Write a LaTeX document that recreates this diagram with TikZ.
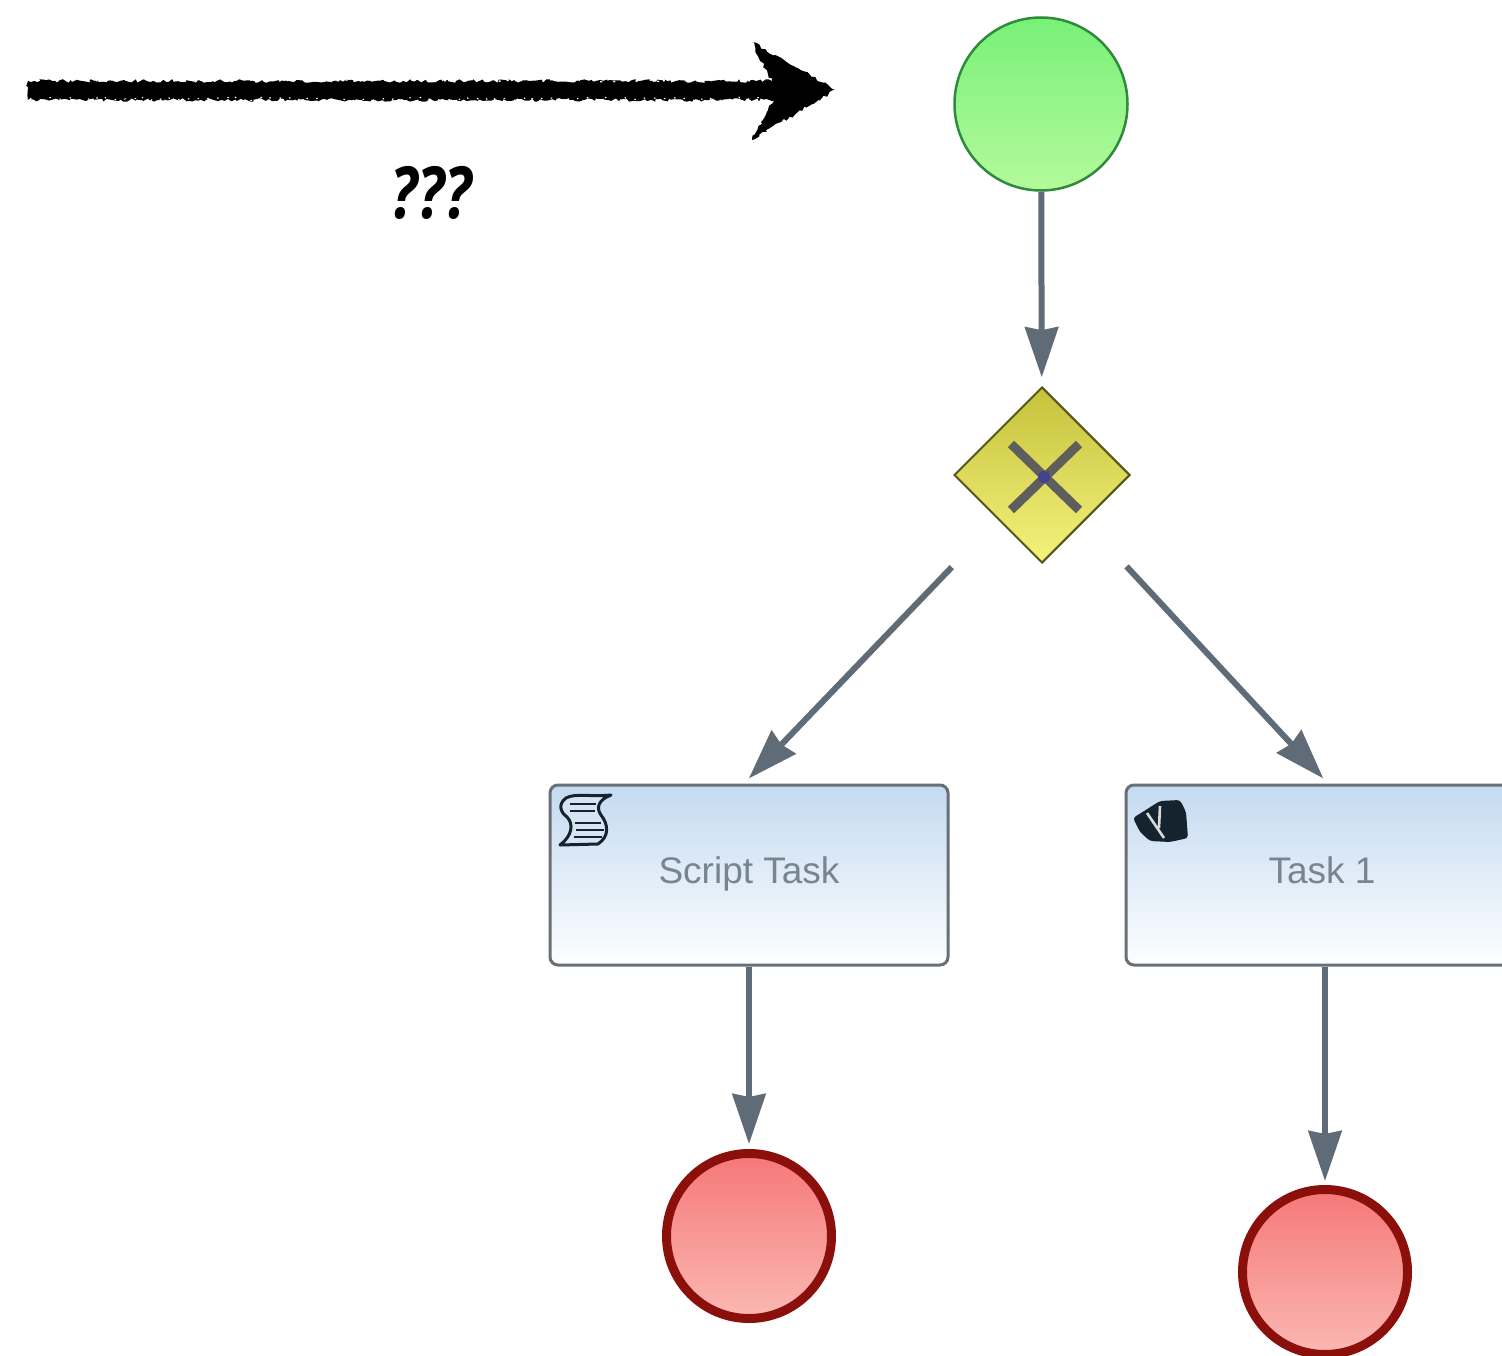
\documentclass[tikz,border=0pt]{standalone}
\usepackage{fontspec}
\setmainfont{Liberation Sans}
\newfontfamily\handfont{Open Sans}
\usetikzlibrary{arrows.meta,shapes.geometric,decorations.pathmorphing}
\definecolor{flowgrey}{HTML}{5F6B76}
\definecolor{taskline}{HTML}{687076}
\definecolor{tasktext}{HTML}{77858F}
\definecolor{icondark}{HTML}{14232E}
\tikzset{
  flow/.style={draw=flowgrey,line width=6pt,-{Stealth[length=50pt,width=33pt,inset=3pt]}},
  taskbox/.style={draw=taskline,line width=3pt,rounded corners=8pt,minimum height=180pt,
    top color=taskblue,bottom color=taskwhite,text=tasktext,font=\fontsize{37}{40}\selectfont,
    text height=26pt,text depth=10pt,inner sep=0pt},
  startev/.style={circle,draw=startline,line width=2.5pt,minimum size=173pt,inner sep=0pt,
    top color=starttop,bottom color=startbot},
  endev/.style={circle,draw=endline,line width=9pt,minimum size=165pt,inner sep=0pt,
    top color=endtop,bottom color=endbot},
  gatewayshape/.style={diamond,aspect=1,draw=gateline,line width=2pt,minimum size=176pt,inner sep=0pt,
    top color=gatetop,bottom color=gatebot},
  crossbar/.style={draw=crossgrey,line width=9pt},
  sketch/.style={decorate,decoration={random steps,segment length=3pt,amplitude=1.8pt}},
  scrollline/.style={draw=icondark,line width=3pt,line join=round}
}
\definecolor{taskblue}{HTML}{C4DAF0}
\definecolor{taskwhite}{HTML}{FDFEFF}
\definecolor{startline}{HTML}{2F8A3A}
\definecolor{starttop}{HTML}{78F078}
\definecolor{startbot}{HTML}{B4FA9C}
\definecolor{endline}{HTML}{8B0F0A}
\definecolor{endtop}{HTML}{F57878}
\definecolor{endbot}{HTML}{FBB8B2}
\definecolor{gateline}{HTML}{55551A}
\definecolor{gatetop}{HTML}{C6C23C}
\definecolor{gatebot}{HTML}{F4F27C}
\definecolor{crossgrey}{HTML}{5E5E5C}
\begin{document}
\begin{tikzpicture}[x=1pt,y=-1pt]
\useasboundingbox (0,0) rectangle (1502,1356);
\clip (0,0) rectangle (1502,1356);
\fill[white] (0,0) rectangle (1502,1356);
\pgfmathsetseed{42}
% sketched arrow
\fill[black,sketch] (28,81) -- (772,81) -- (752,42) -- (835,90) -- (752,140) -- (774,100) -- (28,100) -- cycle;
\draw[white,line width=1.3pt,dash pattern=on 2pt off 6pt,sketch] (30,80) -- (760,80);
\draw[white,line width=1.1pt,dash pattern=on 1.5pt off 9pt,sketch] (30,99) -- (765,99);
\node[font=\handfont\bfseries\itshape\fontsize{72}{72}\selectfont,xscale=.82,inner sep=0pt] (q) at (431,193) {???};
% nodes
\node[startev] (start) at (1041,104) {};
\node[gatewayshape] (gw) at (1042,475) {};
\node[taskbox,minimum width=398pt] (script) at (749,875) {Script Task};
\node[taskbox,minimum width=392pt] (task) at (1322,875) {Task 1};
\node[endev] (endA) at (749,1236) {};
\node[endev] (endB) at (1325,1272) {};
% gateway cross
\coordinate (xa) at (1011,444); \coordinate (xb) at (1079,510);
\coordinate (xc) at (1079,444); \coordinate (xd) at (1011,510);
\draw[crossbar] (xa) -- (xb);
\draw[crossbar] (xc) -- (xd);
\fill[blue!30!crossgrey] (1044,477) circle (6pt);
% connectors
\draw[flow,shorten >=9pt] (start) -- (gw);
\draw[flow,shorten <=66pt,shorten >=7pt] (gw.south west) -- ([xshift=-5pt]script.north);
\draw[flow,shorten <=64pt,shorten >=7pt] ([xshift=-3.5pt]gw.south east) -- ([xshift=6pt]task.north);
\draw[flow,shorten >=5pt] (script) -- (endA);
\draw[flow,shorten >=4pt] (endB.north |- task.south) -- (endB);
% script icon
\draw[scrollline,fill=taskblue!70!white]
  (611,795) .. controls (590,797) and (575,793) .. (566,798)
  .. controls (558,804) and (560,812) .. (567,817)
  .. controls (574,824) and (572,836) .. (560,845)
  -- (598,844) .. controls (610,836) and (608,824) .. (601,815)
  .. controls (596,808) and (598,800) .. (611,795) -- cycle;
\draw[scrollline,line width=2pt] (570,804) -- (596,804) (570,811) -- (595,811)
  (575,823) -- (601,823) (576,830) -- (604,830) (574,837) -- (602,837);
% task icon
\fill[icondark,rounded corners=3pt] (1133,818) -- (1152,806) -- (1160,801) -- (1180,800) -- (1186,812) -- (1188,838) -- (1170,842) -- (1150,841) -- (1140,832) -- cycle;
\draw[white!85!black,line width=2.6pt] (1147,813) -- (1164,838) (1160,806) -- (1159,828);
\end{tikzpicture}
\end{document}
